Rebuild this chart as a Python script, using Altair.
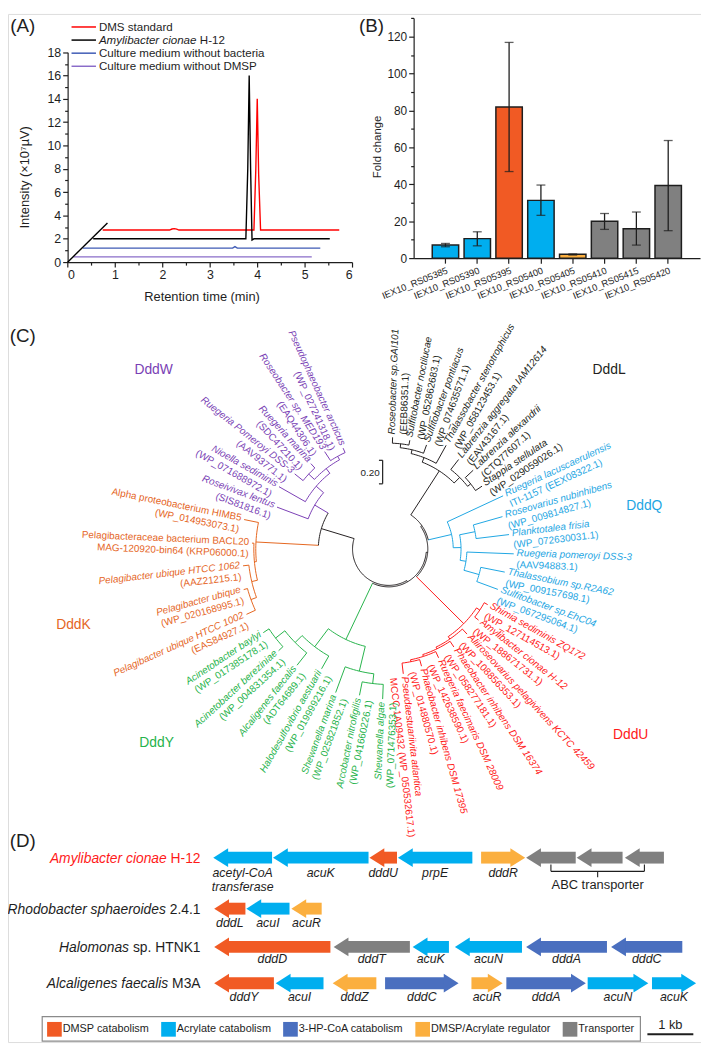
import math
import altair as alt
import pandas as pd

# ------------------------------------------------------------------ layout
W, H = 701, 1040
SX, SY = W / 709.0, H / 1048.0
FONT = "Liberation Sans"
INK = "#1e1e1e"


def px(v):
    return v * SX


def py(v):
    return v * SY


_CW = {" ": 278, "-": 333, ".": 278, "(": 333, ")": 333, "_": 556, "/": 278}
for _c in "0123456789":
    _CW[_c] = 556
for _c, _w in zip("ABCDEFGHIJKLMNOPQRSTUVWXYZ",
                  [667, 667, 722, 722, 667, 611, 778, 722, 278, 500, 667, 556, 833,
                   722, 778, 667, 778, 722, 667, 611, 722, 667, 944, 667, 667, 611]):
    _CW[_c] = _w
for _c, _w in zip("abcdefghijklmnopqrstuvwxyz",
                  [556, 556, 500, 556, 556, 278, 556, 556, 222, 222, 500, 222, 833,
                   556, 556, 556, 556, 333, 500, 278, 556, 500, 722, 500, 500, 500]):
    _CW[_c] = _w


def text_w(s, size):
    return sum(_CW.get(ch, 556) for ch in s) * size / 1000.0


def cscale_x():
    return alt.Scale(domain=[0, 709], range=[0, W], nice=False, zero=False)


def cscale_y():
    return alt.Scale(domain=[0, 1048], range=[0, H], nice=False, zero=False)


def CX(f="x"):
    return alt.X(f"{f}:Q", scale=cscale_x(), axis=None)


def CY(f="y"):
    return alt.Y(f"{f}:Q", scale=cscale_y(), axis=None)


AXS = dict(domainColor=INK, domainWidth=1.2, tickColor=INK, tickWidth=1.2,
           labelColor=INK, labelFont=FONT, titleFont=FONT, titleColor=INK,
           titleFontWeight="normal", grid=False)

# ------------------------------------------------------------------ data
# Panel A : GC chromatograms (retention time in min, intensity x10^7 uV)
A_SERIES = ["DMS standard", "Amylibacter cionae H-12",
            "Culture medium without bacteria", "Culture medium without DMSP"]
A_COLORS = ["#ff0000", "#000000", "#3f5bb5", "#8a6cc9"]
dms_t = [0.74, 2.15, 2.2, 2.25, 2.3, 2.35, 3.93, 3.97, 4.0, 4.03, 4.07, 5.73]
dms_v = [2.75, 2.75, 2.84, 2.87, 2.83, 2.75, 2.75, 8.0, 14.0, 7.5, 2.75, 2.75]
h12_t = [0.54, 3.76, 3.8, 3.83, 3.86, 3.89, 3.93, 5.53]
h12_v = [2.0, 2.0, 8.0, 16.0, 8.0, 1.9, 2.0, 2.0]
nob_t = [0.32, 3.48, 3.53, 3.58, 5.33]
nob_v = [1.2, 1.2, 1.33, 1.2, 1.2]
nod_t = [0.12, 5.15]
nod_v = [0.45, 0.45]
frame_t = [0.0, 0.84]
frame_v = [0.0, 3.35]

# Panel B : fold change
B_GENES = ["IEX10_RS05385", "IEX10_RS05390", "IEX10_RS05395", "IEX10_RS05400",
           "IEX10_RS05405", "IEX10_RS05410", "IEX10_RS05415", "IEX10_RS05420"]
B_FOLD = [7.1, 10.6, 81.9, 31.3, 2.1, 20.0, 15.9, 39.3]
B_LOW = [6.2, 6.7, 46.9, 23.2, 1.7, 15.6, 7.1, 14.9]
B_HIGH = [8.0, 14.3, 116.8, 39.6, 2.3, 24.2, 25.0, 63.7]
CATS = ["DMSP catabolism", "Acrylate catabolism", "3-HP-CoA catabolism",
        "DMSP/Acrylate regulator", "Transporter"]
CAT_COLORS = ["#f15a24", "#00aeef", "#4a6fbf", "#fbaf3f", "#808080"]
B_CAT = [CATS[1], CATS[1], CATS[0], CATS[1], CATS[3], CATS[4], CATS[4], CATS[4]]

# Panel C : tree (leaves in clockwise order from the top)
LEAF_LINE1 = [
    "Roseobacter sp.GAI101", "Sulfitobacter noctilucae", "Sulfitobacter pontiacus",
    "Thalassobacter stenotrophicus", "Labrenzia aggregata IAM12614", "Labrenzia alexandrii",
    "Stappia stellulata",
    "Ruegeria lacuscaerulensis", "Roseovarius nubinhibens", "Planktotalea frisia",
    "Ruegeria pomeroyi DSS-3", "Thalassobium sp.R2A62", "Sulfitobacter sp.EhC04",
    "Shimia sediminis ZQ172", "Amylibacter cionae H-12", "Aliiroseovarius pelagivivens KCTC 42459",
    "Phaeobacter inhibens DSM 16374", "Ruegeria faecimaris DSM 28009",
    "Phaeobacter inhibens DSM 17395", "Pseudaestuariivita atlantica",
    "Shewanella algae", "Arcobacter nitrofigilis", "Shewanella marina",
    "Halodesulfovibrio aestuarii", "Alcaligenes faecalis", "Acinetobacter bereziniae",
    "Acinetobacter baylyi",
    "Pelagibacter ubique HTCC 1002", "Pelagibacter ubique", "Pelagibacter ubique HTCC 1062",
    "Pelagibacteraceae bacterium BACL20", "Alpha proteobacterium HIMB5",
    "Roseivivax lentus", "Nioella sediminis", "Ruegeria Pomeroyi DSS-3", "Ruegeria marina",
    "Roseobacter sp. MED193", "Pseudophaeobacter arcticus"]
LEAF_LINE2 = [
    "(EEB86351.1)", "(WP_052862683.1)", "(WP_074635571.1)", "(WP_058123453.1)",
    "(EAV43167.1)", "(CTQ77607.1)", "(WP_029059026.1)",
    "ITI-1157 (EEX08322.1)", "(WP_009814827.1)", "(WP_072630031.1)", "(AAV94883.1)",
    "(WP_009157698.1)", "(WP_067295064.1)",
    "(WP_127114513.1)", "(WP_188671731.1)", "(WP_108856353.1)", "(WP_058277181.1)",
    "(WP_142638590.1)", "(WP_014880570.1)", "MCCC 1A09432 (WP_050532617.1)",
    "(WP_071476353.1)", "(WP_041660226.1)", "(WP_025821852.1)", "(WP_019999216.1)",
    "(ADT64689.1)", "(WP_004831354.1)", "(WP_017385178.1)",
    "(EAS84927.1)", "(WP_020168995.1)", "(AAZ21215.1)", "MAG-120920-bin64 (KRP06000.1)",
    "(WP_014953073.1)",
    "(SIS81816.1)", "(WP_071688972.1)", "(AAV93771.1)", "(SDC47210.1)", "(EAQ44306.1)",
    "(WP_027241318.1)"]
LEAF_ITALIC = [True] * 30 + [False] * 2 + [True] * 6
LEAF_CLADE = ["L"] * 7 + ["Q"] * 6 + ["U"] * 7 + ["Y"] * 7 + ["K"] * 5 + ["W"] * 6
LEAF_PARENT = ["La2", "La2", "La1", "La", "Lb", "Lb1", "Lb1",
               "Q", "Q2", "Q2", "Q3", "Q4", "Q4",
               "U1", "U1", "U2", "U3", "U4", "U5", "U5",
               "Yb1", "Yb1", "Yb", "Ya", "Ya1", "Ya2", "Ya2",
               "Kc", "Kc", "Kb", "Ka", "K",
               "W", "Wa", "Wc", "Wc", "Wd", "Wd"]
LEAF_DEPTH = [114, 113, 113, 121, 116, 118, 115,
              129, 121, 124, 128, 121, 119,
              116, 117, 118, 120, 122, 124, 128,
              153, 152, 156, 140, 151, 153, 154,
              160, 154, 150, 140, 151,
              122, 129, 123, 118, 119, 113]
# internal nodes: name, parent, depth, clade
NODE_NAME = ["root", "WK", "R1", "R2", "R3",
             "L", "La", "La1", "La2", "Lb", "Lb1",
             "Q", "Q1", "Q2", "Q3", "Q4",
             "U", "U1", "U2", "U3", "U4", "U5",
             "Y", "Ya", "Ya1", "Ya2", "Yb", "Yb1",
             "K", "Ka", "Kb", "Kc",
             "W", "Wa", "Wb", "Wc", "Wd"]
NODE_PARENT = [None, "root", "root", "R1", "R2",
               "R3", "L", "La", "La1", "L", "Lb",
               "R3", "Q", "Q1", "Q1", "Q3",
               "R2", "U", "U", "U2", "U3", "U4",
               "R1", "Y", "Ya", "Ya1", "Y", "Yb",
               "WK", "K", "Ka", "Kb",
               "WK", "W", "Wa", "Wb", "Wb"]
NODE_DEPTH = [37, 72, 38.5, 40, 41.5,
              95, 100, 104, 108, 103, 107,
              66, 74, 90, 80, 96,
              108, 112, 111, 113, 115, 117,
              102, 125, 135, 147, 128, 138,
              136, 138, 144, 150,
              88, 98, 104, 112, 108]
NODE_CLADE = ["bb"] * 5 + ["L"] * 6 + ["Q"] * 5 + ["U"] * 6 + ["Y"] * 6 + ["K"] * 4 + ["W"] * 5
CLADES = ["bb", "L", "Q", "U", "Y", "K", "W"]
CLADE_COLORS = ["#231f20", "#231f20", "#1ea6e3", "#ff1a1a", "#26b34b", "#e5661f", "#7a3fb5"]
CLADE_NAMES = ["DddL", "DddQ", "DddU", "DddY", "DddK", "DddW"]
CLADE_NAME_CLADE = ["L", "Q", "U", "Y", "K", "W"]

# Panel D : gene clusters (kb)
D_ORGS = ["Amylibacter cionae H-12", "Rhodobacter sphaeroides 2.4.1",
          "Halomonas sp. HTNK1", "Alcaligenes faecalis M3A"]
D_ORG_ITALIC = ["Amylibacter cionae", "Rhodobacter sphaeroides", "Halomonas",
                "Alcaligenes faecalis"]
G_ORG = [0] * 8 + [1] * 3 + [2] * 6 + [3] * 8
G_NAME = ["acetyl-CoA\ntransferase", "acuK", "dddU", "prpE", "dddR", "", "", "",
          "dddL", "acuI", "acuR",
          "dddD", "dddT", "acuK", "acuN", "dddA", "dddC",
          "dddY", "acuI", "dddZ", "dddC", "acuR", "dddA", "acuN", "acuK"]
G_START = [0.00, 1.30, 3.40, 4.02, 5.83, 6.81, 7.91, 8.96,
           0.02, 0.72, 1.70,
           0.02, 2.62, 4.34, 5.26, 6.81, 8.66,
           0.02, 1.36, 2.60, 3.74, 5.62, 6.38, 8.15, 9.55]
G_END = [1.28, 3.38, 4.00, 5.64, 6.79, 7.89, 8.91, 9.81,
         0.70, 1.66, 2.36,
         2.55, 4.28, 5.13, 6.72, 8.57, 10.21,
         1.32, 2.40, 3.55, 5.34, 6.30, 8.11, 9.47, 10.51]
G_STRAND = ["-", "-", "-", "-", "+", "-", "-", "-",
            "-", "-", "-",
            "-", "-", "-", "-", "-", "-",
            "-", "-", "-", "+", "+", "+", "+", "+"]
G_CAT = [CATS[1], CATS[1], CATS[0], CATS[1], CATS[3], CATS[4], CATS[4], CATS[4],
         CATS[0], CATS[1], CATS[3],
         CATS[0], CATS[4], CATS[1], CATS[1], CATS[2], CATS[2],
         CATS[0], CATS[1], CATS[3], CATS[2], CATS[3], CATS[2], CATS[1], CATS[1]]
SCALEBAR_KB = 1.0

# ================================================================== Panel A
rows = []
for s, ts, vs in zip(A_SERIES + ["frame"], [dms_t, h12_t, nob_t, nod_t, frame_t],
                     [dms_v, h12_v, nob_v, nod_v, frame_v]):
    for i, (t, v) in enumerate(zip(ts, vs)):
        rows.append({"series": s, "t": t, "v": v, "i": i})
df_a = pd.DataFrame(rows)

a_xaxis = alt.Axis(orient="bottom", offset=py(253) - H, values=[k * 0.5 for k in range(13)],
                   labelExpr="datum.value % 1 === 0 ? '' + datum.value : ''",
                   tickSize={"condition": {"test": "datum.value % 1 === 0", "value": 5}, "value": 3},
                   labelFontSize=12.5, labelPadding=2, title="Retention time (min)",
                   titleFontSize=13, titleX=px(198), titleY=py(35), titleBaseline="middle", **AXS)
a_yaxis = alt.Axis(orient="left", offset=-px(61), values=list(range(19)),
                   labelExpr="datum.value % 2 === 0 ? '' + datum.value : ''",
                   tickSize={"condition": {"test": "datum.value % 2 === 0", "value": 5}, "value": 3},
                   labelFontSize=12.5, labelPadding=2, title="Intensity  (×10⁷µV)",
                   titleFontSize=13, titleX=px(17) - px(61), titleY=py(166),
                   titleBaseline="middle", **AXS)
panel_a = alt.Chart(df_a).mark_line(strokeWidth=1.4).encode(
    x=alt.X("t:Q", scale=alt.Scale(domain=[0, 6], range=[px(61), px(352)], nice=False, zero=False),
            axis=a_xaxis),
    y=alt.Y("v:Q", scale=alt.Scale(domain=[0, 18], range=[py(253), py(39)], nice=False, zero=False),
            axis=a_yaxis),
    color=alt.Color("series:N", scale=alt.Scale(domain=A_SERIES + ["frame"],
                                                range=A_COLORS + ["#000000"]), legend=None),
    detail="series:N", order="i:Q")

leg_rows = []
for i, s in enumerate(A_SERIES):
    ital = s.startswith("Amylibacter")
    main = "Amylibacter cionae" if ital else s
    suf = s[len(main):].strip()
    leg_rows.append({"series": s, "main": main, "suf": suf, "ital": ital,
                     "y": 13.3 + 13.35 * i, "x1": 65, "x2": 90, "xt": 93,
                     "xs": 93 + text_w(main + " ", 11.7) / SX})
df_leg = pd.DataFrame(leg_rows)
leg_color = alt.Color("series:N", scale=alt.Scale(domain=A_SERIES, range=A_COLORS), legend=None)
legend_a = alt.layer(
    alt.Chart(df_leg).mark_rule(strokeWidth=1.5).encode(x=CX("x1"), x2=alt.X2("x2"), y=CY("y"),
                                                        color=leg_color),
    alt.Chart(df_leg).transform_filter("!datum.ital").mark_text(
        align="left", baseline="middle", fontSize=11.7, font=FONT, color=INK).encode(
        x=CX("xt"), y=CY("y"), text="main:N"),
    alt.Chart(df_leg).transform_filter("datum.ital").mark_text(
        align="left", baseline="middle", fontSize=11.7, font=FONT, fontStyle="italic",
        color=INK).encode(x=CX("xt"), y=CY("y"), text="main:N"),
    alt.Chart(df_leg).transform_filter("datum.suf != ''").mark_text(
        align="left", baseline="middle", fontSize=11.7, font=FONT, color=INK).encode(
        x=CX("xs"), y=CY("y"), text="suf:N"),
)

# ================================================================== Panel B
df_b = pd.DataFrame({"gene": B_GENES, "fold": B_FOLD, "lo": B_LOW, "hi": B_HIGH, "cat": B_CAT})
b_xscale = alt.Scale(domain=B_GENES, range=[px(415), px(708)], paddingInner=0.17,
                     paddingOuter=0.585)
b_yscale = alt.Scale(domain=[0, 130], range=[py(249), py(249 - 130 * 226 / 120)],
                     nice=False, zero=False)
b_xaxis = alt.Axis(orient="bottom", offset=py(249) - H, labelAngle=338, labelAlign="right",
                   labelBaseline="top", labelFontSize=9.5, labelPadding=2, tickSize=5,
                   bandPosition=0.5, title=None, **AXS)
b_yaxis = alt.Axis(orient="left", offset=-px(415), values=list(range(0, 131, 10)),
                   labelExpr="datum.value % 20 === 0 ? '' + datum.value : ''",
                   tickSize={"condition": {"test": "datum.value % 20 === 0", "value": 5}, "value": 3},
                   labelFontSize=12, labelPadding=2, title="Fold change", titleFontSize=11.5,
                   titleX=px(378) - px(415), titleY=py(135), titleBaseline="middle", **AXS)
bx = alt.X("gene:N", sort=B_GENES, scale=b_xscale, axis=b_xaxis)
panel_b = alt.layer(
    alt.Chart(df_b).mark_bar(stroke=INK, strokeWidth=1.5).encode(
        x=bx, y=alt.Y("fold:Q", scale=b_yscale, axis=b_yaxis),
        color=alt.Color("cat:N", scale=alt.Scale(domain=CATS, range=CAT_COLORS), legend=None)),
    alt.Chart(df_b).mark_rule(color=INK, strokeWidth=1.3).encode(
        x=bx, y=alt.Y("lo:Q", scale=b_yscale, axis=b_yaxis), y2="hi:Q"),
    alt.Chart(df_b).mark_tick(color=INK, thickness=1.3, size=9, orient="horizontal").encode(
        x=bx, y=alt.Y("hi:Q", scale=b_yscale, axis=b_yaxis)),
    alt.Chart(df_b).mark_tick(color=INK, thickness=1.3, size=9, orient="horizontal").encode(
        x=bx, y=alt.Y("lo:Q", scale=b_yscale, axis=b_yaxis)),
)

# ================================================================== Panel C
TCX, TCY = 389.5, 545.5
N_LEAF = len(LEAF_LINE1)
LEAF_START, LEAF_SPAN = 88.0, 333.6
ang, depth, parent, clade, children = {}, {}, {}, {}, {}
for n, p, d, c in zip(NODE_NAME, NODE_PARENT, NODE_DEPTH, NODE_CLADE):
    depth[n], parent[n], clade[n] = d, p, c
    children.setdefault(n, [])
for n, p in zip(NODE_NAME, NODE_PARENT):
    if p is not None:
        children[p].append(n)
for i in range(N_LEAF):
    lid = "leaf%d" % i
    ang[lid] = LEAF_START - i * LEAF_SPAN / (N_LEAF - 1)
    depth[lid], parent[lid], clade[lid] = LEAF_DEPTH[i], LEAF_PARENT[i], LEAF_CLADE[i]
    children[LEAF_PARENT[i]].append(lid)


def angle_of(n):
    if n not in ang:
        ang[n] = sum(angle_of(c) for c in children[n]) / len(children[n])
    return ang[n]


angle_of("root")


def pos(r, a):
    return TCX + r * math.cos(math.radians(a)), TCY - r * math.sin(math.radians(a))


seg_rows = []
for n in list(depth.keys()):
    p = parent[n]
    if p is None:
        continue
    x1, y1 = pos(depth[p], ang[n])
    x2, y2 = pos(depth[n], ang[n])
    seg_rows.append({"x": x1, "y": y1, "x2": x2, "y2": y2, "clade": clade[n]})
df_seg = pd.DataFrame(seg_rows)

arc_rows = []
for n in NODE_NAME:
    cang = [ang[c] for c in children[n]]
    a0, a1 = min(cang), max(cang)
    steps = max(2, int(math.ceil((a1 - a0) / 1.5)) + 1)
    for k in range(steps):
        a = a0 + (a1 - a0) * k / (steps - 1)
        x, y = pos(depth[n], a)
        arc_rows.append({"arc": n, "k": k, "x": x, "y": y, "clade": clade[n]})
df_arc = pd.DataFrame(arc_rows)

leaf_rows = []
for i in range(N_LEAF):
    a = ang["leaf%d" % i]
    x, y = pos(LEAF_DEPTH[i], a)
    right = math.cos(math.radians(a)) >= -0.001
    rot = (-a) % 360 if right else (180 - a) % 360
    leaf_rows.append({"x": x, "y": y, "rot": rot, "side": "R" if right else "L",
                      "line1": LEAF_LINE1[i], "line2": LEAF_LINE2[i],
                      "ital": LEAF_ITALIC[i], "clade": LEAF_CLADE[i]})
df_leaf = pd.DataFrame(leaf_rows)

clade_color = alt.Color("clade:N", scale=alt.Scale(domain=CLADES, range=CLADE_COLORS), legend=None)


def leaf_text(cond, field, align, dx, dy, style):
    return alt.Chart(df_leaf).transform_filter(cond).mark_text(
        align=align, baseline="middle", dx=dx, dy=dy, fontSize=10, font=FONT,
        fontStyle=style).encode(x=CX("x"), y=CY("y"), text=f"{field}:N",
                                angle=alt.Angle("rot:Q", scale=None), color=clade_color)


CLADE_LABEL_X = [615, 651, 637, 152, 67, 149]
CLADE_LABEL_Y = [363, 502, 735, 743, 623, 363]
df_clab = pd.DataFrame({"name": CLADE_NAMES, "clade": CLADE_NAME_CLADE,
                        "x": CLADE_LABEL_X, "y": CLADE_LABEL_Y})
df_sb = pd.DataFrame({"x": [383.3, 379.5, 379.5], "x2": [383.3, 383.3, 383.3],
                      "y": [455, 455, 479], "y2": [479, 455, 479]})
df_sbt = pd.DataFrame({"x": [370.5], "y": [468], "t": ["0.20"]})

panel_c = alt.layer(
    alt.Chart(df_seg).mark_rule(strokeWidth=1.0).encode(
        x=CX("x"), y=CY("y"), x2=alt.X2("x2"), y2=alt.Y2("y2"), color=clade_color),
    alt.Chart(df_arc).mark_line(strokeWidth=1.0).encode(
        x=CX("x"), y=CY("y"), detail="arc:N", order="k:Q", color=clade_color),
    leaf_text("datum.side === 'R' && datum.ital", "line1", "left", 3, -1, "italic"),
    leaf_text("datum.side === 'R' && !datum.ital", "line1", "left", 3, -1, "normal"),
    leaf_text("datum.side === 'R'", "line2", "left", 3, 11, "normal"),
    leaf_text("datum.side === 'L' && datum.ital", "line1", "right", -3, -1, "italic"),
    leaf_text("datum.side === 'L' && !datum.ital", "line1", "right", -3, -1, "normal"),
    leaf_text("datum.side === 'L'", "line2", "right", -3, 11, "normal"),
    alt.Chart(df_clab).mark_text(fontSize=14, font=FONT, baseline="middle").encode(
        x=CX("x"), y=CY("y"), text="name:N", color=clade_color),
    alt.Chart(df_sb).mark_rule(color=INK, strokeWidth=1.2).encode(
        x=CX("x"), y=CY("y"), x2=alt.X2("x2"), y2=alt.Y2("y2")),
    alt.Chart(df_sbt).mark_text(fontSize=10, font=FONT, color=INK, baseline="middle").encode(
        x=CX("x"), y=CY("y"), text="t:N"),
)

# ================================================================== Panel D
ROW_Y = [860, 912, 951, 988]
LABEL_Y = [876, 927, 963, 1002]
KB_PX = 47.0
HEAD_KB = 12.5 / KB_PX
PATH_L = "M0,0L1.58,-1L1.58,1Z"
PATH_R = "M0,0L-1.58,-1L-1.58,1Z"

g_rows = []
for o, nm, s, e, st, cat in zip(G_ORG, G_NAME, G_START, G_END, G_STRAND, G_CAT):
    tip = s if st == "-" else e
    tail = e if st == "-" else s
    shaft_end = tip + HEAD_KB if st == "-" else tip - HEAD_KB
    parts = nm.split("\n")
    g_rows.append({"org": o, "tip": tip, "tail": tail, "shaft": shaft_end, "strand": st,
                   "cat": cat, "mid": (s + e) / 2, "y": ROW_Y[o], "ly": LABEL_Y[o],
                   "ly2": LABEL_Y[o] + 14, "l1": parts[0],
                   "l2": parts[1] if len(parts) > 1 else ""})
df_g = pd.DataFrame(g_rows)

x_end_kb = (197 - 210) / KB_PX
o_rows = []
for i, (full, it) in enumerate(zip(D_ORGS, D_ORG_ITALIC)):
    reg = full[len(it):].strip()
    o_rows.append({"row": i, "ital": it, "reg": reg, "y": ROW_Y[i] + 1,
                   "xr": x_end_kb,
                   "xi": x_end_kb - text_w(" " + reg, 14) / (KB_PX * SX)})
df_o = pd.DataFrame(o_rows)

grey = df_g[(df_g["org"] == 0) & (df_g["cat"] == CATS[4])]
c1, c3 = grey["mid"].min(), grey["mid"].max()
cm = (c1 + c3) / 2
df_br = pd.DataFrame({"x": [c1, c3, c1, cm], "x2": [c1, c3, c3, cm],
                      "y": [867, 867, 874, 874], "y2": [874, 874, 874, 880]})
df_brt = pd.DataFrame({"x": [cm], "y": [888], "t": ["ABC transporter"]})
SB_X = 9.45
df_kb = pd.DataFrame({"x": [SB_X], "x2": [SB_X + SCALEBAR_KB], "y": [1040]})
df_kbt = pd.DataFrame({"x": [SB_X + SCALEBAR_KB / 2], "y": [1031], "t": ["1 kb"]})

d_xscale = alt.Scale(domain=[0, 10], range=[px(210), px(680)], nice=False, zero=False)


def DX(f):
    return alt.X(f"{f}:Q", scale=d_xscale, axis=None)


cat_color = alt.Color("cat:N", scale=alt.Scale(domain=CATS, range=CAT_COLORS), legend=None)

panel_d = alt.layer(
    alt.Chart(df_g).mark_rule(strokeWidth=12, strokeCap="butt").encode(
        x=DX("tail"), x2=alt.X2("shaft"), y=CY("y"), color=cat_color),
    alt.Chart(df_g).mark_point(filled=True, opacity=1, strokeWidth=0, size=361).encode(
        x=DX("tip"), y=CY("y"), color=cat_color,
        shape=alt.Shape("strand:N", scale=alt.Scale(domain=["-", "+"], range=[PATH_L, PATH_R]),
                        legend=None)),
    alt.Chart(df_g).mark_text(fontSize=12.5, font=FONT, fontStyle="italic", color=INK,
                              baseline="middle").encode(x=DX("mid"), y=CY("ly"), text="l1:N"),
    alt.Chart(df_g).transform_filter("datum.l2 != ''").mark_text(
        fontSize=12.5, font=FONT, fontStyle="italic", color=INK, baseline="middle").encode(
        x=DX("mid"), y=CY("ly2"), text="l2:N"),
    alt.Chart(df_o).mark_text(fontSize=14, font=FONT, fontStyle="italic", align="right",
                              baseline="middle").encode(
        x=DX("xi"), y=CY("y"), text="ital:N",
        color=alt.condition("datum.row === 0", alt.value("#ff1a1a"), alt.value(INK))),
    alt.Chart(df_o).mark_text(fontSize=14, font=FONT, align="right", baseline="middle").encode(
        x=DX("xr"), y=CY("y"), text="reg:N",
        color=alt.condition("datum.row === 0", alt.value("#ff1a1a"), alt.value(INK))),
    alt.Chart(df_br).mark_rule(color=INK, strokeWidth=1.1).encode(
        x=DX("x"), x2=alt.X2("x2"), y=CY("y"), y2=alt.Y2("y2")),
    alt.Chart(df_brt).mark_text(fontSize=13, font=FONT, color=INK, baseline="middle").encode(
        x=DX("x"), y=CY("y"), text="t:N"),
    alt.Chart(df_kb).mark_rule(color=INK, strokeWidth=2).encode(
        x=DX("x"), x2=alt.X2("x2"), y=CY("y")),
    alt.Chart(df_kbt).mark_text(fontSize=13, font=FONT, color=INK, baseline="middle").encode(
        x=DX("x"), y=CY("y"), text="t:N"),
)

# ------------------------------------------------------------------ category legend (panel D)
LEG_FS, LEG_SW, LEG_GAP = 11.0, 15.0, 12.0
lg_rows = []
xcur = 40.0
for cat in CATS:
    lg_rows.append({"cat": cat, "x": xcur, "x2": xcur + LEG_SW, "xt": xcur + LEG_SW + 1,
                    "y": 1027.5, "y2": 1042.5, "yt": 1035})
    xcur += (LEG_SW + 1 + text_w(cat, LEG_FS) + LEG_GAP) / SX
df_lg = pd.DataFrame(lg_rows)
box_right = lg_rows[-1]["xt"] + text_w(CATS[-1], LEG_FS) / SX + 6
df_box = pd.DataFrame({"x": [35], "x2": [box_right], "y": [1022], "y2": [1047]})
legend_d = alt.layer(
    alt.Chart(df_box).mark_rect(fill="white", stroke="#8a8a8a", strokeWidth=1.2).encode(
        x=CX("x"), x2=alt.X2("x2"), y=CY("y"), y2=alt.Y2("y2")),
    alt.Chart(df_lg).mark_rect().encode(
        x=CX("x"), x2=alt.X2("x2"), y=CY("y"), y2=alt.Y2("y2"),
        color=alt.Color("cat:N", scale=alt.Scale(domain=CATS, range=CAT_COLORS), legend=None)),
    alt.Chart(df_lg).mark_text(align="left", baseline="middle", fontSize=LEG_FS, font=FONT,
                               color=INK).encode(x=CX("xt"), y=CY("yt"), text="cat:N"),
)

# ================================================================== panel letters
df_let = pd.DataFrame({"t": ["(A)", "(B)", "(C)", "(D)"], "x": [15, 372, 15, 15],
                       "y": [12, 12, 328, 843]})
letters = alt.Chart(df_let).mark_text(fontSize=19, font=FONT, color=INK, baseline="middle").encode(
    x=CX("x"), y=CY("y"), text="t:N")

chart = alt.layer(panel_a, legend_a, panel_b, panel_c, panel_d, legend_d, letters).resolve_scale(
    x="independent", y="independent", color="independent", shape="independent",
    angle="independent"
).resolve_axis(x="independent", y="independent").properties(
    width=W, height=H, padding=0, autosize=alt.AutoSizeParams(type="none"), background="white"
).configure_view(strokeWidth=0).configure(font=FONT)

chart.save("out.html", embed_options={"renderer": "svg", "actions": False})
